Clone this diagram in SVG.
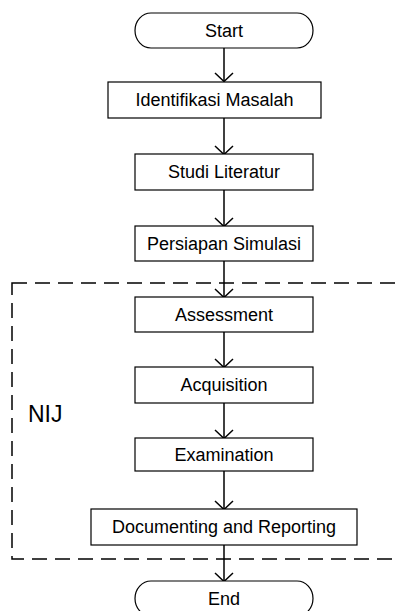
<svg xmlns="http://www.w3.org/2000/svg" width="399" height="611" viewBox="0 0 399 611">
<style>
.box{fill:#fff;stroke:#000;stroke-width:1.2}
.lbl{font-family:"Liberation Sans",Arial,sans-serif;font-size:18px;fill:#000;text-anchor:middle}
.conn{stroke:#000;stroke-width:1.5;fill:none}
</style>
<defs>
<marker id="arr" markerWidth="20" markerHeight="20" refX="9" refY="8.5" orient="auto-start-reverse" markerUnits="userSpaceOnUse" viewBox="0 0 20 20">
<path d="M0,0 L9,8.5 L18,0" fill="none" stroke="#000" stroke-width="1.5"/>
</marker>
</defs>
<rect width="399" height="611" fill="#fff"/>
<g id="nij-group">
<rect x="12" y="283" width="420" height="276" fill="none" stroke="#000" stroke-width="1.5" stroke-dasharray="15 8"/>
<text x="28" y="422" font-family="Liberation Sans,Arial,sans-serif" font-size="23" fill="#000">NIJ</text>
</g>
<g id="connectors">
<line class="conn" x1="224" y1="48" x2="224" y2="81"/>
<path class="conn" d="M215,73 L224,81.5 L233,73"/>
<line class="conn" x1="224" y1="118" x2="224" y2="154"/>
<path class="conn" d="M215,146 L224,154.5 L233,146"/>
<line class="conn" x1="224" y1="190" x2="224" y2="226"/>
<path class="conn" d="M215,218 L224,226.5 L233,218"/>
<line class="conn" x1="224" y1="261" x2="224" y2="297"/>
<path class="conn" d="M215,289 L224,297.5 L233,289"/>
<line class="conn" x1="224" y1="332" x2="224" y2="367"/>
<path class="conn" d="M215,359 L224,367.5 L233,359"/>
<line class="conn" x1="224" y1="403" x2="224" y2="438"/>
<path class="conn" d="M215,430 L224,438.5 L233,430"/>
<line class="conn" x1="224" y1="471" x2="224" y2="509"/>
<path class="conn" d="M215,501 L224,509.5 L233,501"/>
<line class="conn" x1="224" y1="545" x2="224" y2="581"/>
<path class="conn" d="M215,573 L224,581.5 L233,573"/>
</g>
<g id="start">
<rect class="box" x="135" y="13" width="178" height="35" rx="16" ry="17.5"/>
<text class="lbl" x="224" y="37">Start</text>
</g>
<g id="identifikasi">
<rect class="box" x="108" y="82" width="213" height="36"/>
<text class="lbl" x="214.5" y="106">Identifikasi Masalah</text>
</g>
<g id="studi">
<rect class="box" x="135" y="154" width="178" height="36"/>
<text class="lbl" x="224" y="178">Studi Literatur</text>
</g>
<g id="persiapan">
<rect class="box" x="135" y="226" width="178" height="35"/>
<text class="lbl" x="224" y="250">Persiapan Simulasi</text>
</g>
<g id="assessment">
<rect class="box" x="135" y="297" width="178" height="35"/>
<text class="lbl" x="224" y="321">Assessment</text>
</g>
<g id="acquisition">
<rect class="box" x="135" y="367" width="178" height="36"/>
<text class="lbl" x="224" y="391">Acquisition</text>
</g>
<g id="examination">
<rect class="box" x="135" y="438" width="178" height="33"/>
<text class="lbl" x="224" y="461">Examination</text>
</g>
<g id="documenting">
<rect class="box" x="91" y="509" width="266" height="36"/>
<text class="lbl" x="224" y="533">Documenting and Reporting</text>
</g>
<g id="end">
<rect class="box" x="135" y="581" width="178" height="35" rx="16" ry="17.5"/>
<text class="lbl" x="224" y="605">End</text>
</g>
</svg>
